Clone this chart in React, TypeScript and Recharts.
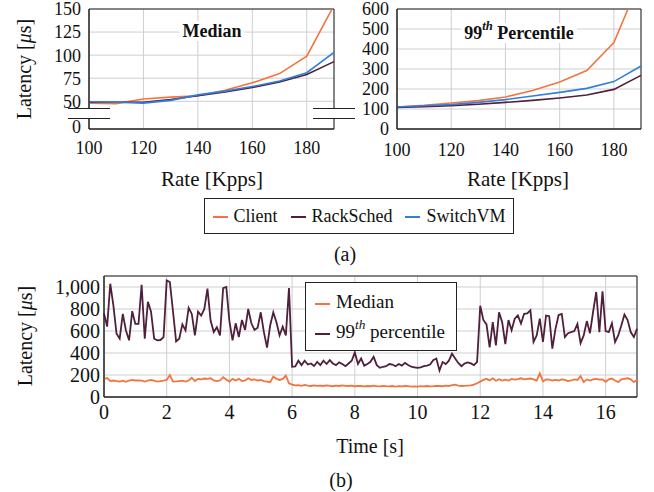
import React from 'react';
import { LineChart, Line, XAxis, YAxis, CartesianGrid, ReferenceArea } from 'recharts';

// (a) rate sweep, Kpps
const RATES = [100, 110, 120, 130, 140, 150, 160, 170, 180, 190];
const MEDIAN_CLIENT = [48, 47.5, 52.5, 54.5, 56, 62, 70, 80, 99, 154];
const MEDIAN_RACKSCHED = [49, 49, 49, 52, 56, 60, 65, 71, 79, 93];
const MEDIAN_SWITCHVM = [49.5, 49, 48, 51, 57, 61, 66, 72, 81, 103];
const P99_CLIENT = [110, 118, 130, 142, 160, 192, 235, 292, 432, 755];
const P99_RACKSCHED = [108, 112, 117, 124, 133, 143, 155, 170, 198, 268];
const P99_SWITCHVM = [110, 116, 122, 133, 147, 165, 183, 203, 237, 315];

const RATE_TICKS = [100, 120, 140, 160, 180];
const MEDIAN_TICKS = [20, 50, 75, 100, 125, 150]; // 20 is the broken-axis "0"
const P99_TICKS = [0, 100, 200, 300, 400, 500, 600];

// (b) latency over time, one sample every 0.1 s
const SAMPLE_STEP = 0.1;
const TIME_P99 = [
  760, 640, 1030, 830, 575, 530, 755, 605, 515, 780,
  665, 665, 1020, 530, 865, 775, 530, 515, 518, 545,
  1060, 1045, 780, 505, 530, 660, 605, 810, 755, 560,
  775, 740, 800, 985, 695, 590, 635, 560, 990, 1000,
  690, 515, 670, 545, 700, 610, 800, 670, 610, 630,
  770, 590, 450, 650, 770, 680, 560, 640, 560, 990,
  275, 278, 330, 290, 330, 295, 305, 282, 320, 290,
  330, 300, 335, 305, 290, 315, 300, 280, 305, 330,
  405, 300, 350, 285, 300, 320, 365, 290, 265, 275,
  280, 300, 295, 280, 300, 285, 310, 290, 275, 270,
  265, 270, 280, 285, 295, 335, 350, 240, 318, 300,
  330, 395, 350, 310, 280, 305, 315, 305, 290, 320,
  830, 700, 660, 450, 680, 470, 770, 680, 480, 700,
  606, 712, 742, 667, 757, 760, 788, 500, 560, 712,
  500, 740, 735, 440, 620, 745, 755, 545, 580, 590,
  600, 665, 490, 560, 690, 580, 775, 955, 590, 960,
  600, 590, 670, 500, 560, 650, 750, 700, 590, 545,
  620,
];
const TIME_MEDIAN = [
  165, 172, 145, 150, 145, 140, 148, 138, 150, 155,
  150, 152, 148, 140, 150, 155, 148, 140, 145, 148,
  155, 200, 140, 142, 145, 148, 140, 150, 175, 145,
  165, 160, 168, 165, 170, 150, 145, 150, 180, 160,
  140, 165, 150, 165, 145, 150, 170, 155, 160, 150,
  155, 145, 140, 135, 185, 165, 155, 165, 195, 125,
  112, 105, 108, 102, 110, 104, 100, 106, 102, 104,
  100, 105, 102, 98, 104, 100, 106, 102, 100, 103,
  98, 102, 100, 96, 100, 98, 103, 99, 96, 100,
  98, 97, 100, 95, 98, 96, 100, 98, 95, 96,
  95, 98, 96, 100, 97, 99, 102, 100, 98, 104,
  100, 108, 112, 104, 100, 102, 104, 106, 112, 125,
  140, 155, 165, 150, 170, 148, 162, 150, 158, 150,
  165, 158, 162, 170, 160, 165, 168, 160, 150, 215,
  142, 160, 158, 150, 155, 150, 160, 155, 145, 150,
  160, 155, 190, 135, 160, 150, 160, 165, 158, 160,
  138, 160, 168, 150, 135, 160, 165, 170, 160, 135,
  158,
];
const TIME_TICKS = [0, 2, 4, 6, 8, 10, 12, 14, 16];
const LATENCY_TICKS = [0, 200, 400, 600, 800, 1000];

const ORANGE = '#f4743f';
const PURPLE = '#4f1f3c';
const BLUE = '#2f7fdc';
const GRID = '#cfcfcf';
const FRAME = '#222';
const FONT = '"Liberation Serif", "Times New Roman", serif';

const medianData = RATES.map((rate, i) => ({
  rate,
  client: MEDIAN_CLIENT[i],
  rackSched: MEDIAN_RACKSCHED[i],
  switchVM: MEDIAN_SWITCHVM[i],
}));
const p99Data = RATES.map((rate, i) => ({
  rate,
  client: P99_CLIENT[i],
  rackSched: P99_RACKSCHED[i],
  switchVM: P99_SWITCHVM[i],
}));
const timeData = TIME_P99.map((p99, i) => ({
  t: +(i * SAMPLE_STEP).toFixed(1),
  median: TIME_MEDIAN[i],
  p99,
}));

const Label = ({ x, y, size = 20, rotate = false, bold = false, bg = false, children }: any) => (
  <div
    style={{
      position: 'absolute',
      left: x,
      top: y,
      transform: `translate(-50%, -50%)${rotate ? ' rotate(-90deg)' : ''}`,
      fontSize: size,
      fontWeight: bold ? 'bold' : 'normal',
      lineHeight: 1,
      whiteSpace: 'nowrap',
      background: bg ? '#fff' : 'transparent',
      padding: bg ? '1px 3px' : 0,
      zIndex: 2,
    }}
  >
    {children}
  </div>
);

const Swatch = ({ color }: { color: string }) => (
  <span style={{ display: 'inline-block', width: 15, height: 2, background: color, marginRight: 6, verticalAlign: 'middle' }} />
);

const Th = () => (
  <sup style={{ fontSize: '0.7em', fontStyle: 'italic', verticalAlign: 'top', position: 'relative', top: '-0.3em' }}>th</sup>
);

const BreakMark = ({ x, y }: { x: number; y: number }) => (
  <div
    style={{
      position: 'absolute',
      left: x,
      top: y,
      width: 42,
      height: 9,
      background: '#fff',
      borderTop: `1px solid ${FRAME}`,
      borderBottom: `1px solid ${FRAME}`,
      zIndex: 2,
    }}
  />
);

const tickStyle = (size: number) => ({ fill: '#111', fontSize: size, fontFamily: FONT });

// left panel y tick: the broken-axis "0" sits a touch higher so it clears the x labels
const MedianTick = (props: any) => {
  const { x, y, payload } = props;
  const v = payload.value;
  return (
    <text x={x} y={v === 20 ? y - 2 : y} dy="0.355em" textAnchor="end" fill="#111" fontSize={18} fontFamily={FONT}>
      {v === 20 ? '0' : String(v)}
    </text>
  );
};

const rateSeries = [
  { key: 'client', color: ORANGE },
  { key: 'rackSched', color: PURPLE },
  { key: 'switchVM', color: BLUE },
];

export default function App() {
  return (
    <div
      style={{
        position: 'absolute',
        left: 0,
        top: 0,
        width: 654,
        height: 492,
        background: '#fff',
        fontFamily: FONT,
        color: '#111',
      }}
    >
      {/* (a) left: median */}
      <div style={{ position: 'absolute', left: 0, top: 0 }}>
        <LineChart width={340} height={160} data={medianData} margin={{ top: 9, right: 6, bottom: 1, left: 0 }}>
          <CartesianGrid stroke={GRID} />
          <XAxis
            dataKey="rate"
            type="number"
            domain={[100, 190]}
            ticks={RATE_TICKS}
            interval={0}
            tickLine={false}
            tickMargin={6}
            axisLine={{ stroke: FRAME }}
            tick={tickStyle(18)}
            height={30}
          />
          <YAxis
            type="number"
            domain={[20, 150]}
            ticks={MEDIAN_TICKS}
            interval={0}
            allowDataOverflow
            tickLine={false}
            axisLine={{ stroke: FRAME }}
            tick={<MedianTick />}
            width={89}
          />
          {rateSeries.map((s) => (
            <Line key={s.key} dataKey={s.key} stroke={s.color} strokeWidth={1.6} dot={false} isAnimationActive={false} />
          ))}
          <ReferenceArea x1={100} x2={190} y1={20} y2={150} fill="none" stroke={FRAME} strokeWidth={1} />
        </LineChart>
      </div>

      {/* (a) right: 99th percentile */}
      <div style={{ position: 'absolute', left: 340, top: 0 }}>
        <LineChart width={310} height={160} data={p99Data} margin={{ top: 9, right: 9, bottom: 1, left: 0 }}>
          <CartesianGrid stroke={GRID} />
          <XAxis
            dataKey="rate"
            type="number"
            domain={[100, 190]}
            ticks={RATE_TICKS}
            interval={0}
            tickLine={false}
            tickMargin={8}
            axisLine={{ stroke: FRAME }}
            tick={tickStyle(18)}
            height={30}
          />
          <YAxis
            type="number"
            domain={[0, 600]}
            ticks={P99_TICKS}
            interval={0}
            allowDataOverflow
            tickLine={false}
            axisLine={{ stroke: FRAME }}
            tick={tickStyle(18)}
            width={57}
          />
          {rateSeries.map((s) => (
            <Line key={s.key} dataKey={s.key} stroke={s.color} strokeWidth={1.6} dot={false} isAnimationActive={false} />
          ))}
          <ReferenceArea x1={100} x2={190} y1={0} y2={600} fill="none" stroke={FRAME} strokeWidth={1} />
        </LineChart>
      </div>

      <BreakMark x={68} y={108} />
      <BreakMark x={313} y={108} />

      <Label x={212} y={31} size={18} bold bg>Median</Label>
      <Label x={519} y={33} size={18} bold bg>
        99<Th /> Percentile
      </Label>
      <Label x={24} y={69} rotate>
        Latency [<i>μ</i>s]
      </Label>
      <Label x={212} y={179} size={21}>Rate [Kpps]</Label>
      <Label x={518} y={179} size={21}>Rate [Kpps]</Label>

      <div
        style={{
          position: 'absolute',
          left: 204,
          top: 198,
          width: 308,
          height: 34,
          border: `1px solid ${FRAME}`,
          display: 'flex',
          alignItems: 'center',
          justifyContent: 'center',
          gap: 13,
          fontSize: 18,
        }}
      >
        <span><Swatch color={ORANGE} />Client</span>
        <span><Swatch color={PURPLE} />RackSched</span>
        <span><Swatch color={BLUE} />SwitchVM</span>
      </div>
      <Label x={345} y={254}>(a)</Label>

      {/* (b) time series */}
      <div style={{ position: 'absolute', left: 0, top: 260 }}>
        <LineChart width={654} height={200} data={timeData} margin={{ top: 16, right: 17, bottom: 33, left: 0 }}>
          <CartesianGrid stroke={GRID} />
          <XAxis
            dataKey="t"
            type="number"
            domain={[0, 17]}
            ticks={TIME_TICKS}
            interval={0}
            tickLine={false}
            axisLine={{ stroke: FRAME }}
            tick={tickStyle(20)}
            height={30}
          />
          <YAxis
            type="number"
            domain={[0, 1100]}
            ticks={LATENCY_TICKS}
            interval={0}
            allowDataOverflow
            tickFormatter={(v: number) => v.toLocaleString('en-US')}
            tickLine={false}
            tickSize={2}
            tickMargin={2}
            axisLine={{ stroke: FRAME }}
            tick={tickStyle(20)}
            width={104}
          />
          <Line dataKey="median" stroke={ORANGE} strokeWidth={1.8} dot={false} isAnimationActive={false} />
          <Line dataKey="p99" stroke={PURPLE} strokeWidth={1.8} dot={false} isAnimationActive={false} />
          <ReferenceArea x1={0} x2={17} y1={0} y2={1100} fill="none" stroke={FRAME} strokeWidth={1} />
        </LineChart>
      </div>

      <div
        style={{
          position: 'absolute',
          left: 305,
          top: 282,
          width: 150,
          height: 67,
          border: `1px solid ${FRAME}`,
          background: '#fff',
          fontSize: 19,
          lineHeight: 1,
          zIndex: 2,
        }}
      >
        <div style={{ position: 'absolute', left: 9, top: 9, whiteSpace: 'nowrap' }}>
          <Swatch color={ORANGE} />Median
        </div>
        <div style={{ position: 'absolute', left: 9, top: 39, whiteSpace: 'nowrap' }}>
          <Swatch color={PURPLE} />99<Th /> percentile
        </div>
      </div>

      <Label x={25} y={336} rotate>
        Latency [<i>μ</i>s]
      </Label>
      <Label x={370} y={446}>Time [s]</Label>
      <Label x={341} y={480}>(b)</Label>
    </div>
  );
}
